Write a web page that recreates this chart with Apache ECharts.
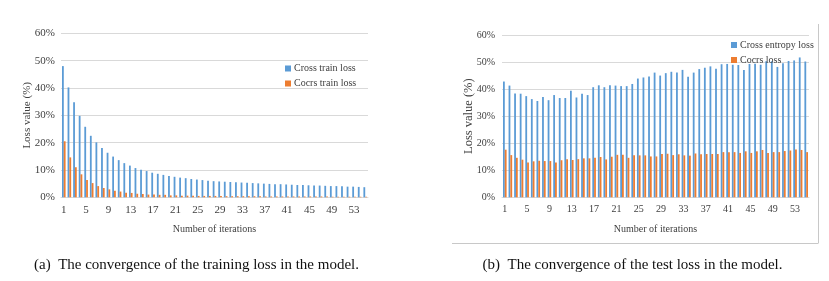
<!DOCTYPE html>
<html>
<head>
<meta charset="utf-8">
<script src="https://cdn.jsdelivr.net/npm/echarts@6/dist/echarts.min.js"></script>
<style>html,body{margin:0;padding:0;background:#fff;}#c{width:829px;height:281px;}</style>
</head>
<body>
<div id="c"></div>
<script>
const categories = ["1","2","3","4","5","6","7","8","9","10","11","12","13","14","15","16","17","18","19","20","21","22","23","24","25","26","27","28","29","30","31","32","33","34","35","36","37","38","39","40","41","42","43","44","45","46","47","48","49","50","51","52","53","54","55"];
const yTicks = [0, 10, 20, 30, 40, 50, 60];

const crossTrainLoss = [48.0,40.2,34.8,29.8,25.8,22.5,20.1,18.0,16.3,14.9,13.6,12.5,11.6,10.7,10.1,9.6,9.0,8.6,8.2,7.8,7.5,7.2,7.0,6.7,6.5,6.3,6.1,5.9,5.8,5.7,5.6,5.5,5.4,5.3,5.2,5.1,5.0,4.9,4.8,4.8,4.7,4.6,4.5,4.5,4.4,4.3,4.3,4.2,4.1,4.1,4.0,3.9,3.9,3.8,3.7];
const cocrsTrainLoss = [20.5,14.6,11.0,8.4,6.3,5.2,4.1,3.4,2.9,2.4,2.1,1.7,1.6,1.3,1.2,1.0,1.0,0.9,0.9,0.7,0.7,0.6,0.6,0.6,0.5,0.5,0.5,0.5,0.5,0.4,0.4,0.4,0.4,0.4,0.4,0.4,0.3,0.3,0.3,0.3,0.3,0.3,0.3,0.3,0.3,0.3,0.3,0.3,0.2,0.2,0.2,0.2,0.2,0.2,0.2];
const crossEntropyLoss = [42.8,41.3,38.4,38.3,37.4,36.3,35.6,37.1,35.9,37.8,36.7,36.7,39.4,36.9,38.3,37.8,40.7,41.4,40.7,41.4,41.3,41.1,41.1,41.9,43.9,44.3,44.7,46.1,45.0,45.9,46.4,46.1,47.1,44.6,46.1,47.4,47.9,48.4,47.5,49.2,49.3,49.0,48.9,47.1,49.3,49.4,49.0,50.3,50.3,48.2,49.6,50.4,50.6,51.7,50.2];
const cocrsLoss = [17.6,15.6,14.6,13.9,12.9,13.3,13.5,13.4,13.4,12.9,13.7,14.1,13.8,14.1,14.4,14.4,14.6,14.9,14.0,15.0,15.7,15.7,14.6,15.5,15.5,15.5,15.1,15.1,16.0,16.1,15.6,15.9,15.5,15.4,16.2,15.9,16.0,16.0,16.0,16.7,16.7,16.7,16.4,17.0,16.4,17.0,17.5,16.4,16.7,16.7,17.1,17.3,17.7,17.5,16.7];

const FONT = "'Liberation Serif', 'Times New Roman', serif";
const BLUE = '#5B9BD5', ORANGE = '#ED7D31', TXT = '#404040', GRID = '#d9d9d9';

function xAxisCfg(gridIndex, fs) {
  return {
    type: 'category', gridIndex, data: categories,
    axisTick: { show: false },
    axisLine: { show: true, lineStyle: { color: GRID } },
    axisLabel: { interval: 3, margin: 7, color: TXT, fontFamily: FONT, fontSize: fs },
    name: 'Number of iterations', nameLocation: 'middle', nameGap: 27,
    nameTextStyle: { color: TXT, fontFamily: FONT, fontSize: 10 }
  };
}
function yAxisCfg(gridIndex, fs, nfs, gap, margin) {
  return {
    type: 'value', gridIndex, min: yTicks[0], max: yTicks[yTicks.length - 1], interval: 10,
    axisLine: { show: false }, axisTick: { show: false },
    splitLine: { lineStyle: { color: GRID, width: 1 } },
    axisLabel: { formatter: '{value}%', margin, color: TXT, fontFamily: FONT, fontSize: fs },
    name: 'Loss value (%)', nameLocation: 'middle', nameGap: gap, nameMoveOverlap: false,
    nameTextStyle: { color: TXT, fontFamily: FONT, fontSize: nfs }
  };
}
function barSeries(name, data, idx, color) {
  return {
    type: 'bar', name, data, xAxisIndex: idx, yAxisIndex: idx,
    barWidth: 1.8, barGap: '0%', itemStyle: { color }, silent: true, animation: false
  };
}

const chart = echarts.init(document.getElementById('c'), null, { renderer: 'canvas' });
chart.setOption({
  animation: false,
  backgroundColor: '#fff',
  grid: [
    { left: 61, right: 461, top: 33.3, bottom: 83.7 },
    { left: 502, right: 20, top: 35, bottom: 83.7 }
  ],
  xAxis: [xAxisCfg(0, 11), xAxisCfg(1, 10)],
  yAxis: [yAxisCfg(0, 11, 11, 28, 6), yAxisCfg(1, 10, 12.5, 27, 7)],
  legend: [
    { data: ['Cross train loss', 'Cocrs train loss'], orient: 'vertical', left: 280, top: 58.5,
      itemWidth: 6, itemHeight: 6, itemGap: 5, icon: 'rect',
      textStyle: { color: TXT, fontFamily: FONT, fontSize: 10, padding: [0, 0, 0, -2] } },
    { data: ['Cross entropy loss', 'Cocrs loss'], orient: 'vertical', left: 726, top: 35,
      itemWidth: 6, itemHeight: 6, itemGap: 5, icon: 'rect',
      textStyle: { color: TXT, fontFamily: FONT, fontSize: 10, padding: [0, 0, 0, -2] } }
  ],
  series: [
    barSeries('Cross train loss', crossTrainLoss, 0, BLUE),
    barSeries('Cocrs train loss', cocrsTrainLoss, 0, ORANGE),
    barSeries('Cross entropy loss', crossEntropyLoss, 1, BLUE),
    barSeries('Cocrs loss', cocrsLoss, 1, ORANGE)
  ],
  graphic: [
    { type: 'line', shape: { x1: 818.5, y1: 24, x2: 818.5, y2: 243 }, style: { stroke: '#c8c8c8', lineWidth: 1 }, silent: true },
    { type: 'line', shape: { x1: 452, y1: 243.5, x2: 818.5, y2: 243.5 }, style: { stroke: '#c8c8c8', lineWidth: 1 }, silent: true },
    { type: 'text', x: 196.5, y: 265, style: { text: '(a)  The convergence of the training loss in the model.', fill: '#111', font: "15px 'Liberation Serif'", textAlign: 'center', textVerticalAlign: 'middle' }, silent: true },
    { type: 'text', x: 632.5, y: 265, style: { text: '(b)  The convergence of the test loss in the model.', fill: '#111', font: "15px 'Liberation Serif'", textAlign: 'center', textVerticalAlign: 'middle' }, silent: true }
  ]
});
</script>
</body>
</html>
